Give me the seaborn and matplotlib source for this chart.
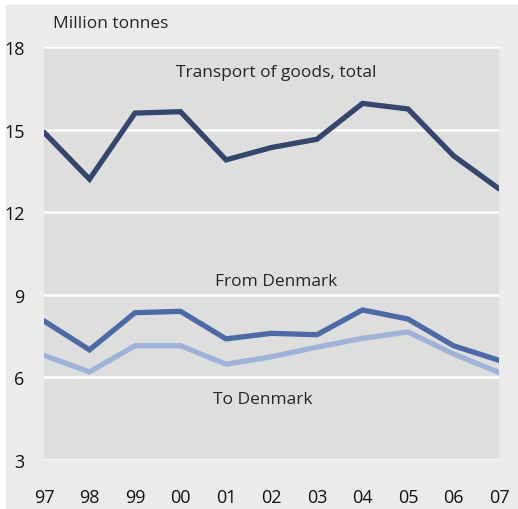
import pandas as pd
import numpy as np
import matplotlib
matplotlib.use("Agg")
import matplotlib.pyplot as plt
from matplotlib.patches import Rectangle
import seaborn as sns

years = ["97", "98", "99", "00", "01", "02", "03", "04", "05", "06", "07"]
total = [14.9, 13.2, 15.6, 15.65, 13.9, 14.35, 14.65, 15.95, 15.75, 14.05, 12.85]
from_dk = [8.05, 7.0, 8.35, 8.4, 7.4, 7.6, 7.55, 8.45, 8.12, 7.15, 6.62]
to_dk = [6.8, 6.2, 7.15, 7.15, 6.48, 6.75, 7.1, 7.42, 7.65, 6.85, 6.18]

df = pd.DataFrame({"x": np.arange(len(years)), "total": total,
                   "from": from_dk, "to": to_dk})

sns.set_style("white")
plt.rcParams['font.family'] = ['Open Sans', 'DejaVu Sans']

fig = plt.figure(figsize=(5.18, 5.10), dpi=100, facecolor="white")
fig.patches.append(Rectangle((6 / 518, 0), 512 / 518, 504 / 510,
                             transform=fig.transFigure, color="#ebebeb", zorder=-1))
ax = fig.add_axes([44 / 518, 1 - 461 / 510, 455 / 518, 413 / 510])
ax.set_facecolor("#dedede")

for ycol, col in [("to", "#9fb2d8"), ("from", "#4d6aa5"), ("total", "#34466b")]:
    sns.lineplot(data=df, x="x", y=ycol, ax=ax, color=col, linewidth=3.8,
                 solid_capstyle="round", solid_joinstyle="miter")

ax.set_xlim(0, 10)
ax.set_ylim(3, 18)
ax.set_yticks([3, 6, 9, 12, 15, 18])
ax.set_xticks(np.arange(len(years)))
ax.set_xticklabels(years)
ax.grid(axis="y", color="white", linewidth=1.8)
ax.set_axisbelow(True)
for s in ax.spines.values():
    s.set_visible(False)
ax.tick_params(length=0, labelsize=13, colors="#111111")
ax.tick_params(axis="y", pad=14)
ax.tick_params(axis="x", pad=20)
ax.set_xlabel("")
ax.set_ylabel("")

ax.text(5.1, 17.1, "Transport of goods, total", ha="center", va="center", fontsize=12.5)
ax.text(5.1, 9.5, "From Denmark", ha="center", va="center", fontsize=12.5)
ax.text(4.8, 5.2, "To Denmark", ha="center", va="center", fontsize=12.5)
fig.text(53 / 518, 1 - 24 / 510, "Million tonnes", ha="left", va="center", fontsize=12.5)

fig.savefig("out.png", dpi=100, facecolor=fig.get_facecolor())
